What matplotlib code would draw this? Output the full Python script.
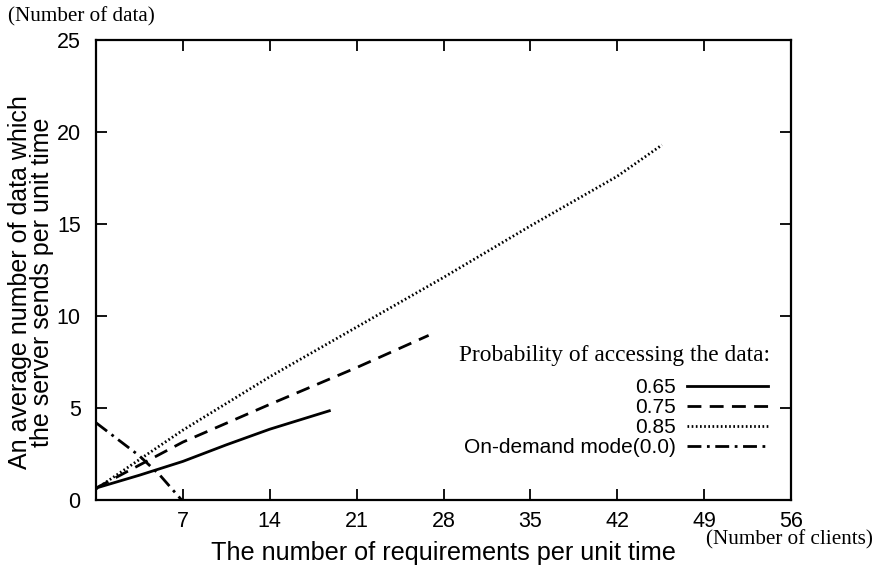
import numpy as np
import matplotlib
matplotlib.use('Agg')
import matplotlib.pyplot as plt

# values
x_065 = [0, 3.5, 7, 10.5, 14, 18.8]
y_065 = [0.65, 1.35, 2.1, 3.0, 3.85, 4.85]

x_075 = [0, 3.5, 7, 14, 21, 26.8]
y_075 = [0.65, 1.9, 3.15, 5.2, 7.2, 8.95]

x_085 = [0, 7, 14, 21, 28, 35, 42, 45.6]
y_085 = [0.6, 3.8, 6.7, 9.4, 12.1, 14.9, 17.6, 19.3]

x_ond = [0, 3.5, 5.15, 6.9]
y_ond = [4.2, 2.4, 1.35, 0.0]

labels = ['0.65', '0.75', '0.85', 'On-demand mode(0.0)']
x_ticks = [7, 14, 21, 28, 35, 42, 49, 56]
y_ticks = [0, 5, 10, 15, 20, 25]

plt.rcParams['font.family'] = ['Liberation Sans', 'DejaVu Sans']

fig = plt.figure(figsize=(8.76, 5.65), dpi=100)
ax = fig.add_axes([0.1096, 0.115, 0.7934, 0.814])

ax.plot(x_065, y_065, color='black', lw=2, ls='-', label=labels[0])
ax.plot(x_075, y_075, color='black', lw=2, ls=(0, (5, 3)), label=labels[1])
ax.plot(x_085, y_085, color='black', lw=2, ls=(0, (0.6, 0.9)), label=labels[2])
ax.plot(x_ond, y_ond, color='black', lw=2, ls=(0, (5, 2, 1, 2)), label=labels[3])

ax.set_xlim(0, 56)
ax.set_ylim(0, 25)
ax.set_xticks(x_ticks)
ax.set_yticks(y_ticks)
ax.tick_params(direction='in', top=True, right=True, length=8, width=1.3,
               labelsize=15.5)
ax.tick_params(axis='y', pad=11)
ax.tick_params(axis='x', pad=8)
for s in ax.spines.values():
    s.set_linewidth(1.6)

ax.set_xlabel('The number of requirements per unit time', fontsize=18.2, va='center')
ax.xaxis.set_label_coords(0.5, -0.115)
ax.set_ylabel('An average number of data which\nthe server sends per unit time',
              fontsize=18, linespacing=0.9, va='center')
ax.yaxis.set_label_coords(-0.093, 0.474)

fig.text(0.009, 0.97, '(Number of data)', family='Liberation Serif', fontsize=15.2,
         va='center', ha='left')
fig.text(0.997, 0.044, '(Number of clients)', family='Liberation Serif', fontsize=15.2,
         va='center', ha='right')

ax.text(0.97, 0.315, 'Probability of accessing the data:', transform=ax.transAxes,
        family='Liberation Serif', fontsize=16.8, ha='right', va='center')

leg = ax.legend(loc='lower right', bbox_to_anchor=(0.982, 0.071), frameon=False,
                markerfirst=False, handlelength=3.9, fontsize=15,
                labelspacing=0.05, borderpad=0, handletextpad=0.53)
leg._legend_box.align = 'right'
for t in leg.get_texts():
    t.set_ha('right')

fig.savefig('out.png', dpi=100)
